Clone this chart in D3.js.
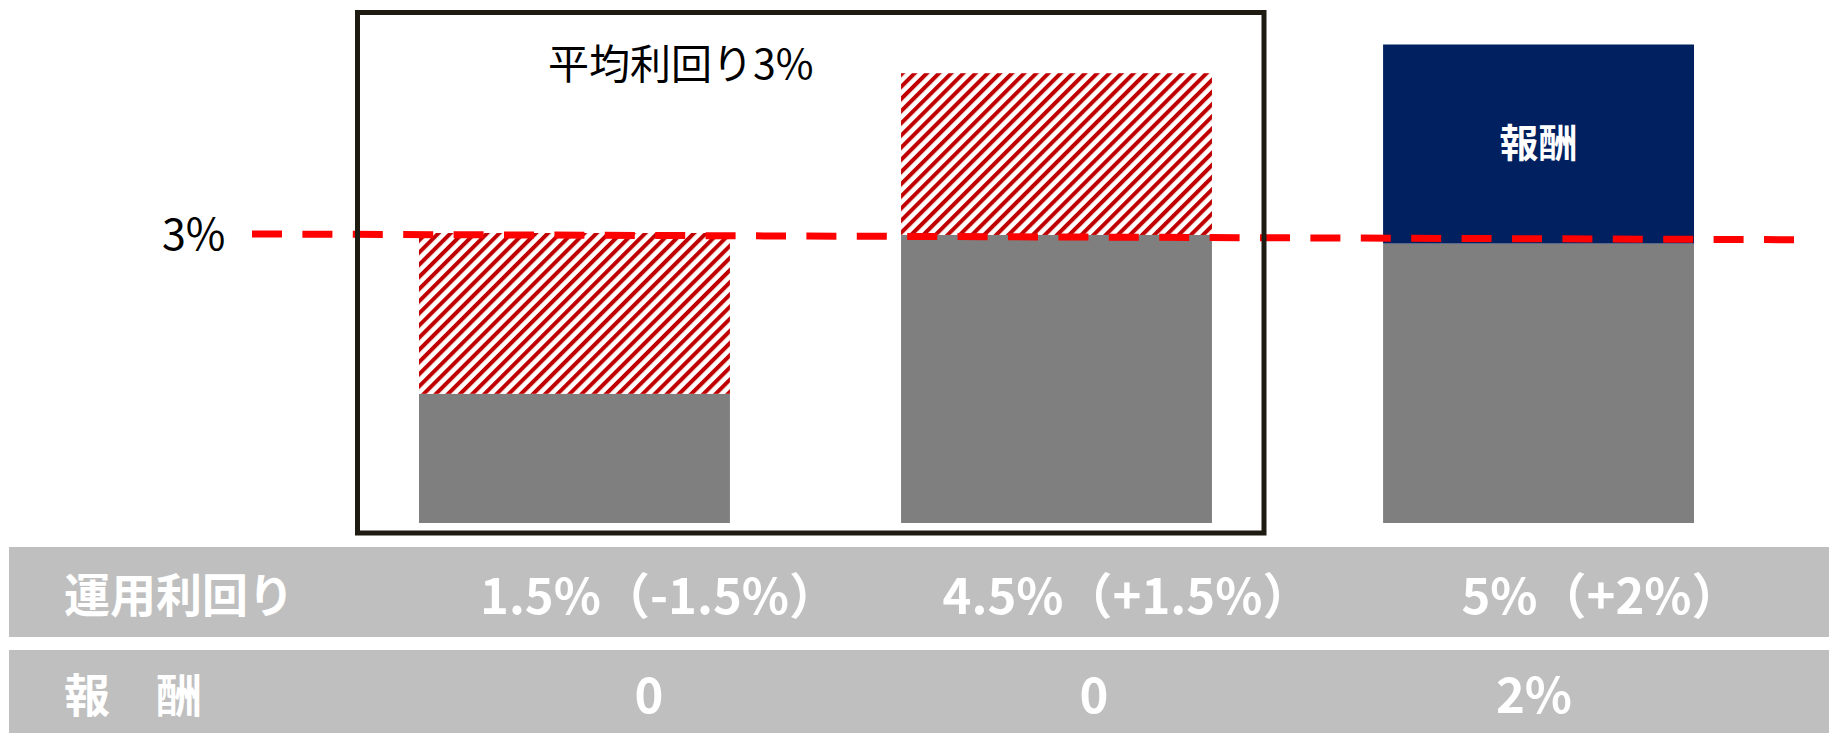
<!DOCTYPE html>
<html>
<head>
<meta charset="utf-8">
<script src="https://cdn.jsdelivr.net/npm/d3@7/dist/d3.min.js"></script>
<style>
  html, body { margin: 0; padding: 0; background: #fff; }
  svg { display: block; }
  text { font-family: "Noto Sans CJK JP", "Noto Sans", sans-serif; }
</style>
</head>
<body>
<script>
// ---- data ----
const categories = ["運用利回り1.5%", "運用利回り4.5%", "運用利回り5%"];
const baseValues = [1.35, 3.01, 2.92];          // gray segment
const upperValues = [1.68, 1.69, 2.08];         // segment stacked on top
const upperKinds = ["hatch", "hatch", "reward"];
const upperLabels = ["", "", "報酬"];
const refLineValues = [3.02, 2.96];             // dashed 3% line (start, end)
const refLabel = "3%";
const boxTitle = "平均利回り3%";
const rowHeaders = ["運用利回り", "報　酬"];
const yieldLabels = ["1.5%（-1.5%）", "4.5%（+1.5%）", "5%（+2%）"];
const rewardLabels = ["0", "0", "2%"];

// ---- layout ----
const W = 1829, H = 733;
const svg = d3.select("body").append("svg").attr("width", W).attr("height", H);

const x = d3.scaleBand().domain(categories).range([419, 1694]).paddingInner(0.355).paddingOuter(0);
const y = d3.scaleLinear().domain([0, 5]).range([523, 44.5]);

const defs = svg.append("defs");
const P = 8.6;
const pat = defs.append("pattern")
  .attr("id", "hatch")
  .attr("patternUnits", "userSpaceOnUse")
  .attr("width", P).attr("height", P)
  .attr("patternTransform", "rotate(45)");
pat.append("rect").attr("width", P).attr("height", P).attr("fill", "#fff");
pat.append("rect").attr("x", 0).attr("width", 4.0).attr("height", P).attr("fill", "#c00000");

const colors = { base: "#7f7f7f", hatch: "url(#hatch)", reward: "#002060" };

const rows = categories.map((c, i) => ({
  c, base: baseValues[i], up: upperValues[i], kind: upperKinds[i], label: upperLabels[i]
}));

// gray base segments
svg.append("g").selectAll("rect").data(rows).join("rect")
  .attr("x", d => x(d.c))
  .attr("width", x.bandwidth())
  .attr("y", d => y(d.base))
  .attr("height", d => y(0) - y(d.base))
  .attr("fill", colors.base);

// upper segments
svg.append("g").selectAll("rect").data(rows).join("rect")
  .attr("x", d => x(d.c))
  .attr("width", x.bandwidth())
  .attr("y", d => y(d.base + d.up))
  .attr("height", d => y(d.base) - y(d.base + d.up))
  .attr("fill", d => colors[d.kind]);

// label inside reward segment
svg.append("g").selectAll("text").data(rows.filter(d => d.label)).join("text")
  .attr("x", d => x(d.c) + x.bandwidth() / 2)
  .attr("y", d => y(d.base + d.up) + 95)
  .attr("text-anchor", "middle")
  .attr("dominant-baseline", "central")
  .attr("fill", "#fff")
  .attr("font-weight", "bold")
  .attr("font-size", 39)
  .text(d => d.label);

// dashed reference line
svg.append("line")
  .attr("x1", 252).attr("x2", 1794)
  .attr("y1", y(refLineValues[0])).attr("y2", y(refLineValues[1]))
  .attr("stroke", "#ff0000")
  .attr("stroke-width", 7)
  .attr("stroke-dasharray", "30 20.4");

svg.append("text")
  .attr("x", 162).attr("y", y(refLineValues[0]) - 3)
  .attr("dominant-baseline", "central")
  .attr("font-size", 43)
  .attr("fill", "#000")
  .text(refLabel);

// box around first two scenarios
svg.append("rect")
  .attr("x", 357.5).attr("y", 12.5)
  .attr("width", 906.5).attr("height", 520.5)
  .attr("fill", "none")
  .attr("stroke", "#1e1b12")
  .attr("stroke-width", 5);

svg.append("text")
  .attr("x", 548).attr("y", 61)
  .attr("dominant-baseline", "central")
  .attr("font-size", 41)
  .attr("fill", "#000")
  .text(boxTitle);

// ---- table ----
const tableRows = [
  { head: rowHeaders[0], vals: yieldLabels, y0: 547, y1: 637, cx: [659, 1127, 1601] },
  { head: rowHeaders[1], vals: rewardLabels, y0: 650, y1: 733, cx: [649, 1094, 1534] }
];
const tg = svg.append("g");
tableRows.forEach(r => {
  tg.append("rect")
    .attr("x", 9).attr("y", r.y0)
    .attr("width", W - 9).attr("height", r.y1 - r.y0)
    .attr("fill", "#bfbfbf");
  const cy = (r.y0 + r.y1) / 2;
  tg.append("text")
    .attr("x", 64).attr("y", cy)
    .attr("dominant-baseline", "central")
    .attr("font-size", 46).attr("font-weight", "bold")
    .attr("fill", "#fff")
    .text(r.head);
  tg.selectAll(null).data(r.vals).join("text")
    .attr("x", (d, i) => r.cx[i]).attr("y", cy)
    .attr("text-anchor", "middle")
    .attr("dominant-baseline", "central")
    .attr("font-size", 49).attr("font-weight", "bold")
    .attr("fill", "#fff")
    .text(d => d);
});
</script>
</body>
</html>
